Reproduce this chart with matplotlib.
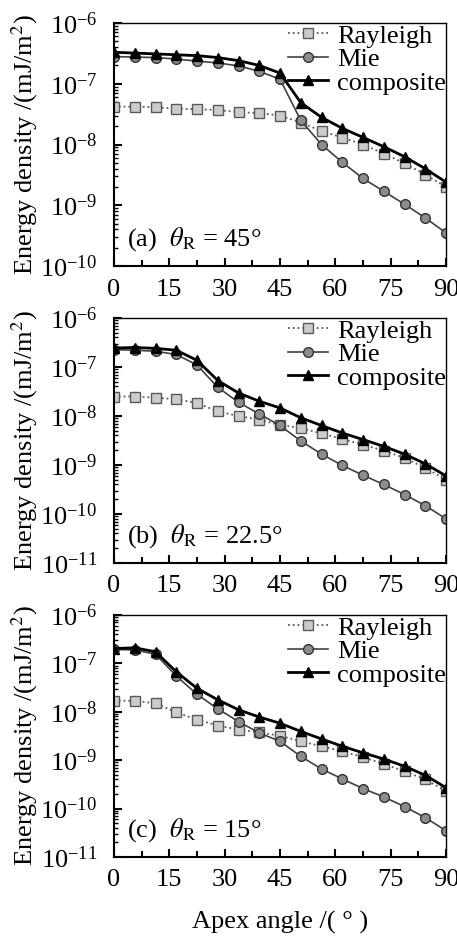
import numpy as np
import matplotlib
matplotlib.use("Agg")
import matplotlib.pyplot as plt
from matplotlib.ticker import MultipleLocator, LogLocator, NullFormatter

plt.rcParams['font.family'] = ['Liberation Serif', 'DejaVu Serif']
plt.rcParams['mathtext.fontset'] = 'stix'

# apex angle (deg), 17 samples
apex = [0, 5.625, 11.25, 16.875, 22.5, 28.125, 33.75, 39.375, 45,
        50.625, 56.25, 61.875, 67.5, 73.125, 78.75, 84.375, 90]

# (a) theta_R = 45
ray_a = [4.2e-8, 4.2e-8, 4.1e-8, 3.9e-8, 3.8e-8, 3.7e-8, 3.4e-8, 3.3e-8, 3.0e-8,
         2.3e-8, 1.67e-8, 1.3e-8, 1.0e-8, 7.1e-9, 4.9e-9, 3.2e-9, 2.0e-9]
mie_a = [2.8e-7, 2.75e-7, 2.7e-7, 2.55e-7, 2.36e-7, 2.2e-7, 1.97e-7, 1.6e-7, 1.19e-7,
         2.5e-8, 1.0e-8, 5.1e-9, 2.76e-9, 1.7e-9, 1.04e-9, 6.2e-10, 3.5e-10]
com_a = [3.3e-7, 3.2e-7, 3.1e-7, 3.0e-7, 2.9e-7, 2.7e-7, 2.4e-7, 2.0e-7, 1.5e-7,
         4.9e-8, 2.8e-8, 1.85e-8, 1.31e-8, 9.2e-9, 6.3e-9, 4.0e-9, 2.4e-9]

# (b) theta_R = 22.5
ray_b = [2.5e-8, 2.5e-8, 2.37e-8, 2.2e-8, 1.84e-8, 1.24e-8, 1.0e-8, 8.4e-9, 6.6e-9,
         5.7e-9, 4.4e-9, 3.4e-9, 2.6e-9, 1.96e-9, 1.39e-9, 8.7e-10, 5.0e-10]
mie_b = [2.26e-7, 2.2e-7, 2.1e-7, 1.8e-7, 1.1e-7, 3.85e-8, 1.9e-8, 1.1e-8, 6.4e-9,
         3.1e-9, 1.67e-9, 9.8e-10, 6.2e-10, 4.0e-10, 2.5e-10, 1.48e-10, 8.0e-11]
com_b = [2.44e-7, 2.5e-7, 2.4e-7, 2.2e-7, 1.37e-7, 5.3e-8, 2.95e-8, 2.0e-8, 1.46e-8,
         9.2e-9, 6.4e-9, 4.5e-9, 3.3e-9, 2.4e-9, 1.67e-9, 1.06e-9, 6.0e-10]

# (c) theta_R = 15
ray_c = [1.71e-8, 1.68e-8, 1.5e-8, 9.7e-9, 6.9e-9, 5.2e-9, 4.27e-9, 3.76e-9, 3.2e-9,
         2.46e-9, 1.94e-9, 1.53e-9, 1.15e-9, 8.4e-10, 5.9e-10, 4.0e-10, 2.3e-10]
mie_c = [1.94e-7, 1.9e-7, 1.55e-7, 5.5e-8, 2.3e-8, 1.15e-8, 6.3e-9, 3.65e-9, 2.46e-9,
         1.2e-9, 6.6e-10, 4.1e-10, 2.6e-10, 1.74e-10, 1.1e-10, 6.5e-11, 3.5e-11]
com_c = [2.03e-7, 2.1e-7, 1.74e-7, 6.7e-8, 3.06e-8, 1.77e-8, 1.1e-8, 7.8e-9, 5.8e-9,
         3.94e-9, 2.75e-9, 1.94e-9, 1.42e-9, 1.06e-9, 7.5e-10, 4.9e-10, 2.7e-10]

panels = [
    ("(a)", "45", ray_a, mie_a, com_a, 1e-10),
    ("(b)", "22.5", ray_b, mie_b, com_b, 1e-11),
    ("(c)", "15", ray_c, mie_c, com_c, 1e-11),
]

fig = plt.figure(figsize=(4.57, 9.36), dpi=100)

# axes boxes in pixels (top, bottom) measured from reference
boxes = [(23, 266), (318, 563), (615, 857)]
W, H = 457.0, 936.0
fs = 19

for (tag, ang, ray, mie, com, ymin), (top, bot) in zip(panels, boxes):
    ax = fig.add_axes([114 / W, 1 - bot / H, (446 - 114) / W, (bot - top) / H])

    ax.plot(apex, ray, ls=':', color='0.35', lw=1.3, marker='s', ms=6.5,
            mfc='0.8', mec='0.35', mew=1.0, label='Rayleigh')
    ax.plot(apex, mie, ls='-', color='0.25', lw=1.2, marker='o', ms=7,
            mfc='0.55', mec='0.2', mew=1.0, label='Mie')
    ax.plot(apex, com, ls='-', color='black', lw=2.0, marker='^', ms=7.5,
            mfc='black', mec='black', label='composite')

    ax.set_yscale('log')
    ax.set_ylim(ymin, 1e-6)
    ax.set_xlim(0, 90)
    ax.xaxis.set_major_locator(MultipleLocator(15))
    ax.xaxis.set_minor_locator(MultipleLocator(7.5))
    ax.yaxis.set_major_locator(LogLocator(base=10, numticks=10))
    ax.yaxis.set_minor_locator(LogLocator(base=10, subs=np.arange(2, 10), numticks=20))
    ax.yaxis.set_minor_formatter(NullFormatter())
    ax.tick_params(which='both', direction='in', top=False, right=False,
                   labelsize=fs)
    ax.tick_params(axis='x', which='major', length=6, width=1.5, pad=9)
    ax.tick_params(axis='x', which='minor', length=4, width=1.5)
    ax.tick_params(axis='y', which='major', length=6, width=1.5, pad=12)
    ax.tick_params(axis='y', which='minor', length=3, width=1.0)
    for s in ['left', 'bottom']:
        ax.spines[s].set_linewidth(1.5)
    for s in ['top', 'right']:
        ax.spines[s].set_linewidth(1.0)

    ax.set_ylabel('Energy density /(mJ/m$^2$)', fontsize=fs, labelpad=0)
    ax.text(0.04, 0.11, tag + r'  $\theta_{\rm R}$' + ' = ' + ang + '°',
            transform=ax.transAxes, fontsize=fs, va='center', ha='left')

    ax.legend(loc='upper right', frameon=False, fontsize=fs, handlelength=1.5,
              handletextpad=0.35, labelspacing=0.0, borderaxespad=0.0,
              borderpad=0.0, bbox_to_anchor=(1.0, 0.995))

ax.set_xlabel('Apex angle /( ° )', fontsize=fs, labelpad=14)

fig.savefig('out.png', dpi=100)
